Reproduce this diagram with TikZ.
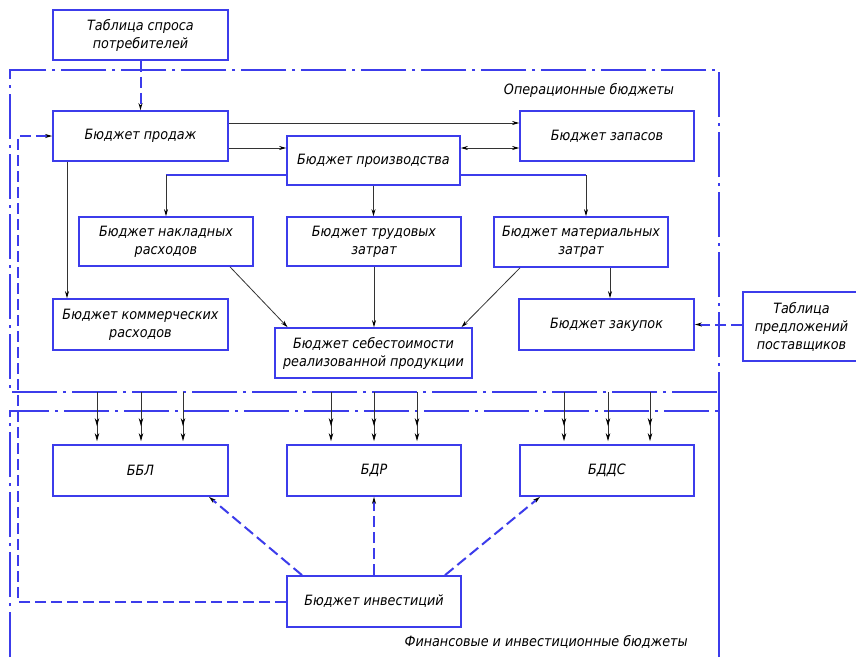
\documentclass[tikz,border=0pt]{standalone}
\usepackage{fontspec}
\newfontfamily\gost{DejaVu Sans Condensed Oblique}
\usetikzlibrary{arrows.meta}
\definecolor{cadblue}{RGB}{60,60,235}
\begin{document}
\begin{tikzpicture}[x=1pt,y=-1pt,
  font=\gost\fontsize{14.2}{18}\selectfont,
  box/.style={draw=cadblue,line width=1.7pt,fill=white,inner sep=2pt,align=center},
  conn/.style={draw=black!80,line width=0.8pt},
  tip/.style={-{Stealth[length=7pt,width=4pt,color=black]}},
  dtip/.style={-{Stealth[length=8pt,width=4.5pt,color=black,sep=7pt]Stealth[length=8pt,width=4.5pt,color=black]},shorten >=3pt},
  blueline/.style={draw=cadblue,line width=1.2pt},
  bdash/.style={draw=cadblue,line width=2pt,dash pattern=on 11pt off 5pt},
  region/.style={draw=cadblue,line width=1.6pt,dash pattern=on 45pt off 6pt on 3pt off 6pt},
  lbl/.style={inner sep=0pt}]
\clip (0,0) rectangle (856,657);
\fill[white] (0,0) rectangle (856,657);

% regions
\draw[region] (719,657) -- (719,70) -- (10,70) -- (10,392) -- (719,392);
\draw[region] (10,657) -- (10,411) -- (719,411) -- (719,657);
\node[lbl] (opl) at (589,90) {Операционные бюджеты};
\node[lbl,anchor=east] (finl) at (688,642) {Финансовые и инвестиционные бюджеты};

% nodes
\node[box,minimum width=175pt,minimum height=50pt] (tabS) at (140.5,35) {Таблица спроса\\потребителей};
\node[box,minimum width=175pt,minimum height=50pt] (sales) at (140.5,136) {Бюджет продаж};
\node[box,minimum width=173pt,minimum height=49pt] (prod) at (373.5,160.5) {Бюджет производства};
\node[box,minimum width=174pt,minimum height=50pt] (zap) at (607,136) {Бюджет запасов};
\node[box,minimum width=174pt,minimum height=49pt] (nakl) at (166,241.5) {Бюджет накладных\\расходов};
\node[box,minimum width=174pt,minimum height=49pt] (trud) at (374,241.5) {Бюджет трудовых\\затрат};
\node[box,minimum width=174pt,minimum height=50pt] (mat) at (581,242) {Бюджет материальных\\затрат};
\node[box,minimum width=175pt,minimum height=51pt] (kom) at (140.5,324.5) {Бюджет коммерческих\\расходов};
\node[box,minimum width=197pt,minimum height=50pt] (seb) at (373.5,353) {Бюджет себестоимости\\реализованной продукции};
\node[box,minimum width=175pt,minimum height=51pt] (zak) at (606.5,324.5) {Бюджет закупок};
\node[box,minimum width=117pt,minimum height=69pt] (tabP) at (801.5,326.5) {Таблица\\предложений\\поставщиков};
\node[box,minimum width=175pt,minimum height=51pt] (bbl) at (140.5,470.5) {ББЛ};
\node[box,minimum width=174pt,minimum height=51pt] (bdr) at (374,470.5) {БДР};
\node[box,minimum width=174pt,minimum height=51pt] (bdds) at (607,470.5) {БДДС};
\node[box,minimum width=174pt,minimum height=51pt] (inv) at (374,601.5) {Бюджет инвестиций};

% helper coordinates
\coordinate (yA) at (0,148);
\coordinate (yB) at (0,175);
\coordinate (xK) at (67,0);
\coordinate (xM) at (586,0);
\coordinate (xZ) at (610,0);
\coordinate (xL) at (18,0);

% operational connectors
\draw[bdash,tip] (tabS.south) -- (sales.north);
\draw[conn,tip] ([yshift=13pt]sales.east) -- ([yshift=13pt]zap.west);
\draw[conn,tip] (sales.east |- yA) -- (prod.west |- yA);
\draw[conn,{Stealth[length=7pt,width=4pt,color=black]}-{Stealth[length=7pt,width=4pt,color=black]}] (prod.east |- yA) -- (zap.west |- yA);
\draw[conn,tip] (xK |- sales.south) -- (xK |- kom.north);
\draw[blueline] (prod.west |- yB) -- (nakl.north |- yB);
\draw[conn,tip] (nakl.north |- yB) -- (nakl.north);
\draw[conn,tip] (prod.south) -- (prod.south |- trud.north);
\draw[blueline] (prod.east |- yB) -- (xM |- yB);
\draw[conn,tip] (xM |- yB) -- (xM |- mat.north);
\draw[conn,tip] ([xshift=64pt]nakl.south) -- ([xshift=-86pt]seb.north);
\draw[conn,tip] (trud.south) -- (trud.south |- seb.north);
\draw[conn,tip] ([xshift=-61pt]mat.south) -- ([xshift=88pt]seb.north);
\draw[conn,tip] (xZ |- mat.south) -- (xZ |- zak.north);
\draw[bdash,tip] (tabP.west |- zak.east) -- (zak.east);

% into financial budgets
\foreach \i/\x/\t in {1/97/bbl,2/141/bbl,3/183/bbl,4/331/bdr,5/374/bdr,6/417/bdr,7/564/bdds,8/608/bdds,9/650/bdds}{
  \coordinate (d\i) at (\x,392);
  \draw[conn,dtip] (d\i) -- (d\i |- \t.north);
}

% investment connectors
\draw[bdash,tip] ([xshift=-72pt]inv.north) -- ([xshift=68.5pt]bbl.south);
\draw[bdash,tip] (inv.north) -- (bdr.south);
\draw[bdash,tip] ([xshift=71pt]inv.north) -- ([xshift=-67pt]bdds.south);
\draw[bdash,tip] (inv.west) -| (xL |- sales.west) -- (sales.west);
\end{tikzpicture}
\end{document}
